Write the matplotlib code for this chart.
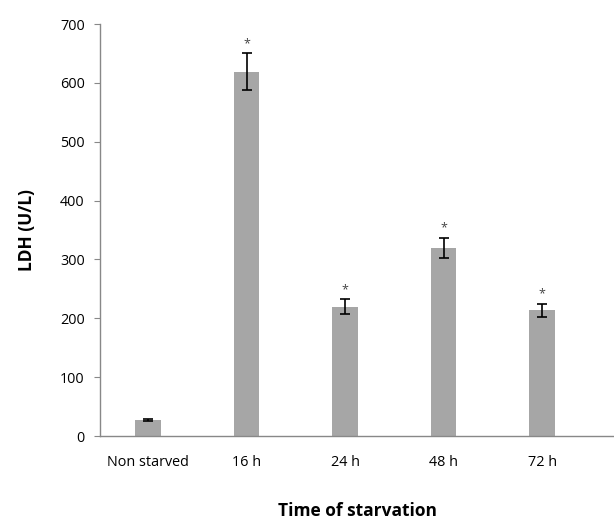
import matplotlib.pyplot as plt

categories = ["Non starved", "16 h", "24 h", "48 h", "72 h"]
ldh = [27, 619, 220, 319, 214]
err = [2, 31, 12, 17, 11]
signif = [False, True, True, True, True]

plt.rcParams['font.family'] = ['Open Sans', 'DejaVu Sans']

fig = plt.figure(figsize=(6.14, 5.24), dpi=100)
ax = fig.add_axes([100 / 614, 1 - 436 / 524, 514 / 614, (436 - 24) / 524])

x = list(range(len(categories)))
ax.bar(x, ldh, width=0.26, color='#a6a6a6', yerr=err, capsize=3.6,
       error_kw=dict(ecolor='black', elinewidth=1.2, capthick=1.2))

for xi, v, e, s in zip(x, ldh, err, signif):
    if s:
        ax.text(xi, v + e + 6, '*', ha='center', va='bottom', fontsize=9, color='#444444')

ax.set_xlim(-0.487, 4.73)
ax.set_ylim(0, 700)
ax.set_yticks(range(0, 701, 100))
ax.set_xticks(x)
ax.set_xticklabels(categories)

for side in ['top', 'right']:
    ax.spines[side].set_visible(False)
for side in ['left', 'bottom']:
    ax.spines[side].set_color('#888888')
    ax.spines[side].set_linewidth(1)

ax.tick_params(axis='y', direction='out', length=4, color='#888888', labelsize=10.4, pad=7)
ax.tick_params(axis='x', length=0, labelsize=10.4, pad=14)

ax.set_ylabel('LDH (U/L)', fontsize=12.5, fontweight='bold', labelpad=17)
ax.set_xlabel('Time of starvation', fontsize=12.5, fontweight='bold', labelpad=23)

fig.savefig('out.png', dpi=100)
